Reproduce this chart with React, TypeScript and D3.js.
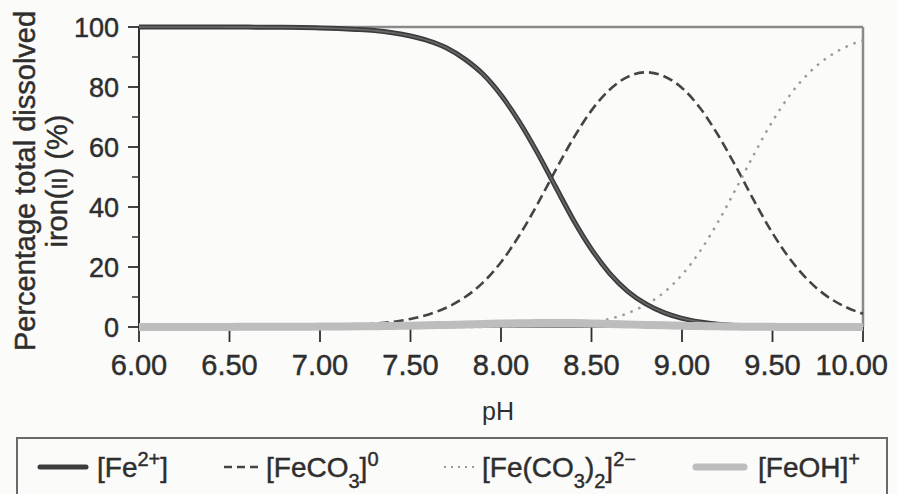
import React from 'react'
import * as d3 from 'd3'

// pH steps and species percentages
const pH = [
  6.0, 6.1, 6.2, 6.3, 6.4, 6.5, 6.6, 6.7, 6.8, 6.9, 7.0, 7.1, 7.2, 7.3, 7.4, 7.5, 7.6, 7.7, 7.8, 7.9, 8.0,
  8.1, 8.2, 8.3, 8.4, 8.5, 8.6, 8.7, 8.8, 8.9, 9.0, 9.1, 9.2, 9.3, 9.4, 9.5, 9.6, 9.7, 9.8, 9.9, 10.0,
]
const fe2 = [
  100, 100, 100, 99.99, 99.98, 99.97, 99.96, 99.94, 99.9, 99.85, 99.7, 99.5, 99.2, 98.8, 98.1, 97.0, 95.4,
  93.0, 89.3, 84.3, 77.3, 68.5, 58.2, 46.9, 35.7, 25.9, 17.9, 11.9, 7.7, 4.8, 2.9, 1.7, 0.9, 0.5, 0.25, 0.1,
  0.05, 0.02, 0.01, 0, 0,
]
const feCO3 = [
  0, 0, 0, 0.01, 0.02, 0.03, 0.04, 0.06, 0.1, 0.15, 0.27, 0.44, 0.69, 1.1, 1.7, 2.7, 4.2, 6.5, 9.9, 14.8,
  21.6, 30.4, 40.8, 52.1, 62.9, 72.2, 79.1, 83.4, 84.9, 83.6, 79.7, 73.0, 63.9, 53.2, 41.9, 31.3, 22.4, 15.4,
  10.3, 6.8, 4.4,
]
const feCO32 = [
  0, 0, 0, 0, 0, 0, 0, 0, 0, 0, 0, 0, 0, 0, 0, 0, 0, 0, 0, 0.02, 0.05, 0.1, 0.22, 0.45, 0.87, 1.6, 2.7, 4.6,
  7.4, 11.5, 17.4, 25.3, 35.1, 46.3, 57.8, 68.6, 77.6, 84.6, 89.7, 93.2, 95.6,
]
const feOH = [
  0.01, 0.01, 0.01, 0.02, 0.02, 0.04, 0.05, 0.07, 0.09, 0.11, 0.14, 0.18, 0.22, 0.28, 0.36, 0.45, 0.56,
  0.68, 0.82, 0.97, 1.13, 1.25, 1.35, 1.37, 1.32, 1.2, 1.04, 0.87, 0.7, 0.55, 0.42, 0.31, 0.21, 0.14, 0.09,
  0.05, 0.03, 0.02, 0.01, 0, 0,
]

const xTicks = [6.0, 6.5, 7.0, 7.5, 8.0, 8.5, 9.0, 9.5, 10.0]
const yTicks = [0, 20, 40, 60, 80, 100]
const yMinor = [10, 30, 50, 70, 90]

const W = 897
const H = 494
const FONT = '"Liberation Sans", Arial, Helvetica, sans-serif'
const INK = '#2e2e2e'
// the scan makes the type look heavier than plain Arial
const heavy = { stroke: INK, strokeWidth: 0.45 }

export default function App() {
  const x = d3.scaleLinear().domain([6, 10]).range([139, 863])
  const y = d3.scaleLinear().domain([0, 100]).range([327, 27])

  const line = (vals: number[]) =>
    d3
      .line<number>()
      .x((_, i) => x(pH[i]))
      .y((d) => y(d))
      .curve(d3.curveMonotoneX)(vals) || ''

  return (
    <svg
      width={W}
      height={H}
      style={{ position: 'absolute', left: 0, top: 0, background: '#fbfbfa' }}
      fontFamily={FONT}
    >
      {/* frame */}
      <line x1={x(6)} x2={x(10)} y1={y(100)} y2={y(100)} stroke="#8a8a8a" strokeWidth={2.5} />
      <line x1={x(10)} x2={x(10)} y1={y(100)} y2={y(0)} stroke="#8a8a8a" strokeWidth={2.5} />
      <line x1={x(6)} x2={x(10)} y1={y(0)} y2={y(0)} stroke="#666" strokeWidth={1.5} />
      <line x1={x(6)} x2={x(6)} y1={y(100) - 1} y2={y(0) + 1} stroke={INK} strokeWidth={2} />

      {/* y ticks */}
      {yTicks.map((t) => (
        <g key={'y' + t}>
          <line x1={128} x2={x(6)} y1={y(t)} y2={y(t)} stroke={INK} strokeWidth={1.8} />
          <text x={119} y={y(t)} dy="0.36em" textAnchor="end" fontSize={27} fill={INK} {...heavy}>
            {t}
          </text>
        </g>
      ))}
      {yMinor.map((t) => (
        <line key={'m' + t} x1={132} x2={x(6)} y1={y(t)} y2={y(t)} stroke={INK} strokeWidth={1.5} />
      ))}

      {/* x ticks; the last label is pulled in so it stays inside the picture */}
      {xTicks.map((t, i) => {
        const last = i === xTicks.length - 1
        return (
          <g key={'x' + t}>
            <line x1={x(t)} x2={x(t)} y1={y(0)} y2={342} stroke={INK} strokeWidth={1.8} />
            <text
              x={last ? 888 : x(t)}
              y={375}
              textAnchor={last ? 'end' : 'middle'}
              fontSize={29}
              fill={INK}
              {...heavy}
            >
              {t.toFixed(2)}
            </text>
          </g>
        )
      })}

      {/* axis titles */}
      <text x={498} y={420} textAnchor="middle" fontSize={25} fill={INK}>
        pH
      </text>
      <text transform="translate(35,181) rotate(-90)" textAnchor="middle" fontSize={29} fill={INK} {...heavy}>
        Percentage total dissolved
      </text>
      <text transform="translate(67,181) rotate(-90)" textAnchor="middle" fontSize={29} fill={INK} {...heavy}>
        iron(<tspan fontSize={22}>II</tspan>) (%)
      </text>

      {/* series */}
      <path d={line(feCO3)} fill="none" stroke="#444" strokeWidth={2.6} strokeDasharray="10,5" />
      <path d={line(feCO32)} fill="none" stroke="#999" strokeWidth={2.4} strokeDasharray="2.5,6" />
      <path d={line(fe2)} fill="none" stroke="#3c3c3c" strokeWidth={5} />
      <path d={line(fe2)} fill="none" stroke="#6a6a6a" strokeWidth={1.6} />
      <path d={line(feOH)} fill="none" stroke="#bdbdbd" strokeWidth={8} />

      {/* legend */}
      <rect x={17} y={438} width={870} height={80} fill="none" stroke="#6a6a6a" strokeWidth={2} />
      <line x1={40} x2={86} y1={467} y2={467} stroke="#3c3c3c" strokeWidth={5} strokeLinecap="round" />
      <text x={97} y={477} fontSize={28} fill={INK} {...heavy}>
        [Fe<tspan fontSize={20} baselineShift="super">2+</tspan>]
      </text>
      <line x1={224} x2={262} y1={467} y2={467} stroke="#444" strokeWidth={2.6} strokeDasharray="8,5" />
      <text x={266} y={477} fontSize={28} fill={INK} {...heavy}>
        [FeCO<tspan fontSize={20} baselineShift="sub">3</tspan>]
        <tspan fontSize={20} baselineShift="super">0</tspan>
      </text>
      <line x1={444} x2={477} y1={467} y2={467} stroke="#999" strokeWidth={2.2} strokeDasharray="2,5" />
      <text x={482} y={477} fontSize={28} fill={INK} {...heavy}>
        [Fe(CO<tspan fontSize={20} baselineShift="sub">3</tspan>)
        <tspan fontSize={20} baselineShift="sub">2</tspan>]
        <tspan fontSize={20} baselineShift="super">2−</tspan>
      </text>
      <line x1={696} x2={744} y1={467} y2={467} stroke="#bdbdbd" strokeWidth={7} strokeLinecap="round" />
      <text x={758} y={477} fontSize={28} fill={INK} {...heavy}>
        [FeOH]<tspan fontSize={20} baselineShift="super">+</tspan>
      </text>
    </svg>
  )
}
